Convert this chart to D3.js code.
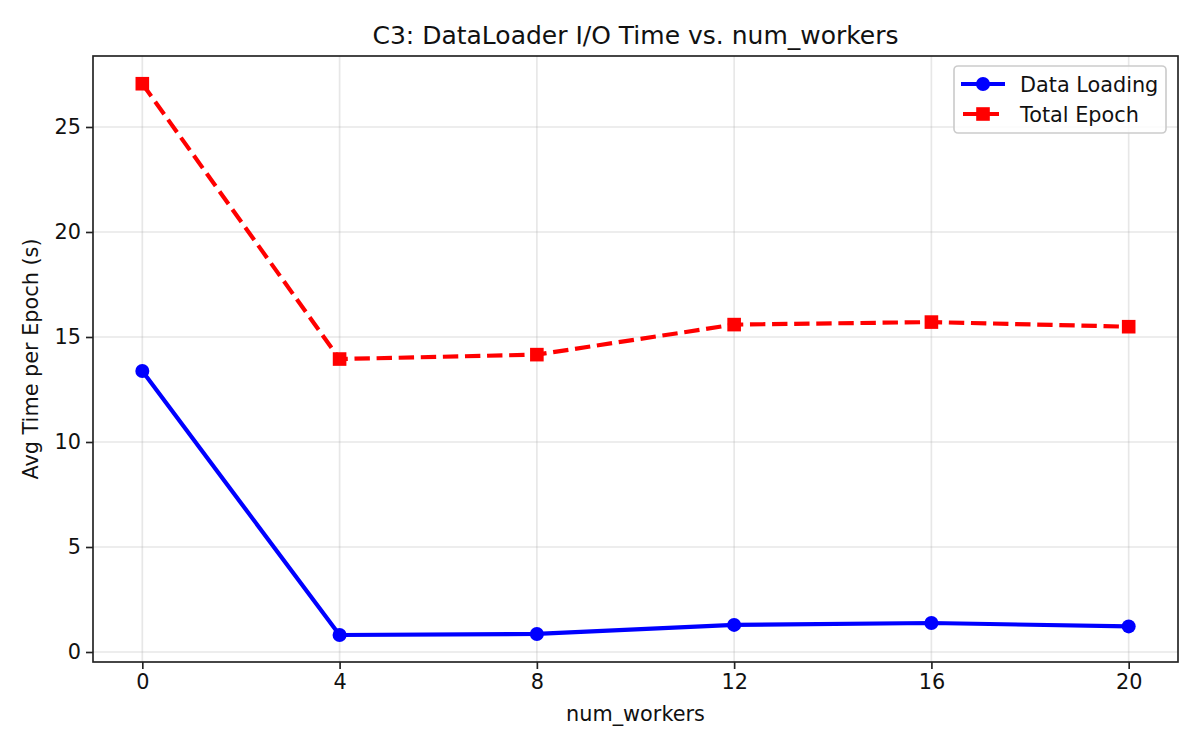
<!DOCTYPE html>
<html>
<head>
<meta charset="utf-8">
<script src="https://cdn.jsdelivr.net/npm/d3@7"></script>
<style>
  body { margin: 0; background: #fff; }
  svg { font-family: "DejaVu Sans", sans-serif; }
</style>
</head>
<body>
<svg id="chart" width="1200" height="750"></svg>
<script>
const workers = [0, 4, 8, 12, 16, 20];
const dataLoading = [13.38, 0.81, 0.86, 1.29, 1.38, 1.22];
const totalEpoch = [27.06, 13.95, 14.16, 15.59, 15.71, 15.49];
const xTicks = [0, 4, 8, 12, 16, 20];
const yTicks = [0, 5, 10, 15, 20, 25];
const title = "C3: DataLoader I/O Time vs. num_workers";
const xLabel = "num_workers";
const yLabel = "Avg Time per Epoch (s)";
const seriesNames = ["Data Loading", "Total Epoch"];

const svg = d3.select("#chart");
const L = 93, R = 1178, T = 56, B = 662;
const x = d3.scaleLinear().domain([-1, 21]).range([L, R]);
const y = d3.scaleLinear().domain([-0.476, 28.38]).range([B, T]);

svg.append("rect").attr("width", 1200).attr("height", 750).attr("fill", "#fff");

// grid
const grid = svg.append("g");
grid.selectAll(".gx").data(xTicks).join("line")
  .attr("x1", d => x(d)).attr("x2", d => x(d)).attr("y1", T).attr("y2", B)
  .attr("stroke", "#b0b0b0").attr("stroke-opacity", 0.3).attr("stroke-width", 1.67);
grid.selectAll(".gy").data(yTicks).join("line")
  .attr("y1", d => y(d)).attr("y2", d => y(d)).attr("x1", L).attr("x2", R)
  .attr("stroke", "#b0b0b0").attr("stroke-opacity", 0.3).attr("stroke-width", 1.67);

// axes
const xAxis = d3.axisBottom(x).tickValues(xTicks).tickSize(7).tickPadding(5).tickFormat(d3.format("d"));
const yAxis = d3.axisLeft(y).tickValues(yTicks).tickSize(7).tickPadding(5).tickFormat(d3.format("d"));
const gx = svg.append("g").attr("transform", `translate(0,${B})`).call(xAxis);
const gy = svg.append("g").attr("transform", `translate(${L},0)`).call(yAxis);
[gx, gy].forEach(g => {
  g.select(".domain").remove();
  g.selectAll(".tick line").attr("stroke", "#222").attr("stroke-width", 1.67);
  g.selectAll(".tick text").attr("fill", "#111").attr("font-size", 20.8).attr("font-family", "DejaVu Sans");
});
gx.selectAll(".tick text").attr("dy", "0.71em");

// series
const line = d3.line().x((d, i) => x(workers[i])).y(d => y(d));
const plot = svg.append("g");
plot.append("path").datum(dataLoading).attr("d", line)
  .attr("fill", "none").attr("stroke", "#0000ff").attr("stroke-width", 4.17)
  .attr("stroke-linejoin", "round").attr("stroke-linecap", "round");
plot.append("path").datum(totalEpoch).attr("d", line)
  .attr("fill", "none").attr("stroke", "#ff0000").attr("stroke-width", 4.17)
  .attr("stroke-dasharray", "15.4,6.7");
plot.selectAll(".dc").data(dataLoading).join("circle")
  .attr("cx", (d, i) => x(workers[i])).attr("cy", d => y(d)).attr("r", 7)
  .attr("fill", "#0000ff");
plot.selectAll(".ts").data(totalEpoch).join("rect")
  .attr("x", (d, i) => x(workers[i]) - 6.8).attr("y", d => y(d) - 6.8)
  .attr("width", 13.6).attr("height", 13.6).attr("fill", "#ff0000");

// frame
svg.append("rect").attr("x", L).attr("y", T).attr("width", R - L).attr("height", B - T)
  .attr("fill", "none").attr("stroke", "#222").attr("stroke-width", 1.67);

// labels
svg.append("text").attr("x", (L + R) / 2).attr("y", 44).attr("text-anchor", "middle")
  .attr("font-size", 25).attr("fill", "#111").text(title);
svg.append("text").attr("x", (L + R) / 2).attr("y", 721).attr("text-anchor", "middle")
  .attr("font-size", 20.8).attr("fill", "#111").text(xLabel);
svg.append("text").attr("transform", `translate(38,${(T + B) / 2}) rotate(-90)`)
  .attr("text-anchor", "middle").attr("font-size", 20.8).attr("fill", "#111").text(yLabel);

// legend
const lg = svg.append("g");
lg.append("rect").attr("x", 954).attr("y", 66).attr("width", 212).attr("height", 67)
  .attr("rx", 4).attr("fill", "#fff").attr("fill-opacity", 0.8)
  .attr("stroke", "#cccccc").attr("stroke-width", 1.67);
const rows = [
  { name: seriesNames[0], color: "#0000ff", dash: null, marker: "circle", yc: 84 },
  { name: seriesNames[1], color: "#ff0000", dash: "15.4,6.7", marker: "square", yc: 114 }
];
rows.forEach(r => {
  const ln = lg.append("line").attr("x1", 961).attr("x2", 1005).attr("y1", r.yc).attr("y2", r.yc)
    .attr("stroke", r.color).attr("stroke-width", 4.17);
  if (r.dash) ln.attr("x1", 963).attr("x2", 999).attr("stroke-dasharray", "15.4,6.7");
  if (r.marker === "circle") {
    lg.append("circle").attr("cx", 983).attr("cy", r.yc).attr("r", 7).attr("fill", r.color);
  } else {
    lg.append("rect").attr("x", 983 - 6.8).attr("y", r.yc - 6.8).attr("width", 13.6).attr("height", 13.6).attr("fill", r.color);
  }
  lg.append("text").attr("x", 1020).attr("y", r.yc + 7.5).attr("font-size", 20.8).attr("fill", "#111").text(r.name);
});
</script>
</body>
</html>
